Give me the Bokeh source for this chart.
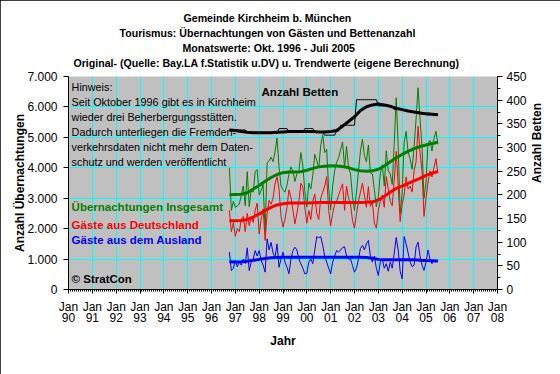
import math
from bokeh.plotting import figure
from bokeh.models import Range1d, LinearAxis, FixedTicker, Label, Title
from bokeh.embed import file_html
from bokeh.resources import INLINE
import pandas as pd

# ---------------- data ----------------
months = pd.date_range("1996-10-01", "2005-07-01", freq="MS")
quarters = pd.date_range("1996-10-01", "2005-07-01", freq="3MS")

gesamt = [4000, 2600, 2900, 2700, 2750, 2800, 3100, 3400, 2750, 3870,
          2720, 3300, 3200, 3880, 3940, 3110, 3250, 3450, 1900, 4165,
          4225, 4350, 4200, 4530, 4980, 4030, 3400, 3280, 3200, 3430,
          3795, 4030, 3880, 3550, 3800, 3900, 4500, 4060, 3215, 2710,
          3500, 3300, 3750, 4440, 4240, 4000, 4740, 5090, 4500, 4610,
          3300, 2615, 3400, 3900, 4180, 4330, 4600, 4850, 4000, 4700,
          4000, 3800, 3060, 2600, 3200, 3900, 4550, 4940, 4400, 4200,
          4750, 3830, 3800, 3280, 2715, 3060, 3800, 4100, 3400, 4560,
          3900, 3800, 3450, 4800, 6300, 4700, 2500, 3150, 4840, 5200,
          4500, 4300, 3950, 4700, 5600, 6630, 5600, 4700, 3000, 3500,
          4800, 4900, 4550, 4950, 5200, 4770]

deutschland = [2600, 1900, 2200, 1750, 2000, 1900, 2300, 2400, 1900, 2500,
               2100, 2400, 2200, 2600, 2840, 1830, 2300, 2650, 1610, 2500,
               2925, 2800, 3000, 3470, 3710, 3300, 2400, 2050, 2300, 2700,
               3275, 3030, 2600, 2160, 2500, 2900, 3490, 3360, 2700, 2180,
               2600, 2300, 2900, 3140, 2500, 2300, 3000, 3200, 3400, 3710,
               2600, 2100, 2500, 2800, 2900, 3100, 3300, 3470, 2600, 3400,
               3000, 2800, 2270, 2015, 2500, 2900, 3200, 3490, 3100, 2700,
               3380, 2730, 2900, 2180, 2015, 2600, 2900, 3100, 2700, 3710,
               3300, 2900, 2750, 3600, 4535, 3400, 2235, 2800, 3100, 3700,
               3300, 3400, 3200, 3900, 4200, 5360, 4500, 3900, 2400, 3000,
               3500, 3900, 3700, 4000, 4300, 3820]

ausland = [1230, 620, 700, 950, 750, 900, 800, 1000, 850, 1370,
           620, 900, 1000, 1280, 1100, 1280, 950, 800, 570, 1665,
           1300, 1550, 1200, 1060, 1500, 730, 1000, 1230, 900, 730,
           520, 1000, 1280, 1390, 1300, 1000, 844, 700, 515, 530,
           900, 1000, 850, 1300, 1740, 1700, 1740, 1450, 1100, 900,
           700, 515, 900, 1100, 1280, 1230, 1300, 1380, 1400, 1100,
           1000, 1000, 790, 570, 700, 1000, 1350, 1450, 1300, 1500,
           1610, 1100, 900, 1100, 700, 460, 900, 1000, 700, 850,
           600, 900, 700, 1200, 1710, 1300, 600, 350, 1740, 1500,
           1200, 900, 750, 800, 1400, 1555, 1100, 800, 625, 900,
           1300, 1000, 850, 950, 900, 950]

betten = [337, 337, 337, 337, 337, 337, 337, 337, 337, 332,
          332, 332, 332, 332, 332, 332, 332, 332, 332, 332,
          332, 330, 330, 330, 330, 340, 340, 340, 340, 340,
          333, 333, 333, 333, 333, 333, 333, 333, 340, 340,
          340, 340, 340, 333, 333, 333, 333, 333, 326, 326,
          326, 326, 326, 326, 335, 335, 347, 347, 347, 347,
          347, 347, 347, 347, 401, 401, 401, 401, 401, 401,
          401, 401, 401, 401, 401, 388, 388, 388, 388, 388,
          388, 388, 388, 380, 380, 380, 380, 380, 380, 376,
          376, 376, 376, 376, 376, 376, 373, 373, 373, 373,
          373, 373, 370, 370, 370, 370]

trend_gesamt = [3110, 3120, 3130, 3180, 3300, 3420, 3560, 3680, 3780, 3840,
                3860, 3860, 3870, 3920, 3980, 4030, 4050, 4070, 4060, 4040,
                4000, 3940, 3900, 3890, 3900, 3950, 4060, 4200, 4330, 4440,
                4540, 4630, 4700, 4750, 4800, 4840]
trend_deutschland = [2260, 2260, 2270, 2300, 2380, 2480, 2600, 2700, 2780, 2820,
                     2840, 2840, 2840, 2840, 2850, 2860, 2860, 2860, 2860, 2860,
                     2860, 2860, 2860, 2865, 2880, 2940, 3060, 3200, 3320, 3400,
                     3490, 3570, 3650, 3750, 3820, 3880]
trend_ausland = [910, 905, 910, 930, 960, 990, 1020, 1040, 1055, 1060,
                 1060, 1060, 1060, 1060, 1060, 1060, 1060, 1060, 1060, 1060,
                 1060, 1060, 1060, 1050, 1030, 990, 975, 975, 975, 975,
                 975, 975, 960, 950, 945, 940]
trend_betten = [337, 336, 334, 332, 331, 331, 331, 331, 332, 333,
                334, 334, 334, 334, 334, 333, 333, 334, 336, 345,
                355, 365, 378, 386, 390, 392, 390, 387, 383, 380,
                377, 375, 373, 371, 370, 369]

years = list(range(1990, 2009))
year_labels = {y: "Jan\n" + str(y)[2:] for y in years}
left_ticks = [0, 1000, 2000, 3000, 4000, 5000, 6000, 7000]
left_labels = {0: "0", 1000: "1.000", 2000: "2.000", 3000: "3.000",
               4000: "4.000", 5000: "5.000", 6000: "6.000", 7000: "7.000"}
right_ticks = [0, 50, 100, 150, 200, 250, 300, 350, 400, 450]

title_lines = ["Gemeinde Kirchheim b. München",
               "Tourismus: Übernachtungen von Gästen und Bettenanzahl",
               "Monatswerte: Okt. 1996 - Juli 2005",
               "Original- (Quelle: Bay.LA f.Statistik u.DV) u. Trendwerte (eigene Berechnung)"]
hinweis = ["Hinweis:",
           "Seit Oktober 1996 gibt es in Kirchheim",
           "wieder drei Beherbergungsstätten.",
           "Dadurch unterliegen die Fremden-",
           "verkehrsdaten nicht mehr dem Daten-",
           "schutz und werden veröffentlicht"]

FONT = "Liberation Sans"

x_m = [d.year + (d.month - 1) / 12 for d in months]
x_q = [d.year + (d.month - 1) / 12 for d in quarters]

# ---------------- figure ----------------
p = figure(width=560, height=374, x_range=Range1d(1990, 2008), y_range=Range1d(0, 7000),
           output_backend="svg", toolbar_location=None, title=None,
           min_border_left=68, min_border_right=63, min_border_bottom=85, min_border_top=76,
           background_fill_color="#C0C0C0", border_fill_color="white")
p.outline_line_color = None
p.styles = {"outline": "1px solid black", "outline-offset": "-1px"}

p.extra_y_ranges = {"betten": Range1d(0, 450)}

# white (invisible) spacer between plot and title block
p.add_layout(Title(text=".", text_font=FONT, text_font_size="6px", text_color="white",
                   standoff=1), "above")
# titles (first added = closest to the plot)
title_offsets = [115, 51, 114, 5]
for txt, off in reversed(list(zip(title_lines, title_offsets))):
    p.add_layout(Title(text=txt, align="left", offset=off, standoff=1,
                       text_font=FONT, text_font_size="10.6px", text_font_style="bold",
                       text_color="black", text_line_height=1.0), "above")

# grids
p.xgrid.ticker = FixedTicker(ticks=years)
p.ygrid.ticker = FixedTicker(ticks=left_ticks)
p.xgrid.grid_line_color = "#00FFFF"
p.ygrid.grid_line_color = "#00FFFF"
p.xgrid.grid_line_width = 1
p.ygrid.grid_line_width = 1

# x axis
xa = p.xaxis[0]
xa.ticker = FixedTicker(ticks=years, minor_ticks=[1990 + i / 12 for i in range(217)])
xa.major_label_overrides = year_labels
xa.axis_label = "Jahr"
xa.major_tick_out = 4
xa.major_tick_in = 0
xa.minor_tick_out = 2
xa.minor_tick_in = 0
xa.major_label_standoff = 6
xa.axis_label_standoff = 6
xa.major_label_text_line_height = 0.85

# left axis
ya = p.yaxis[0]
ya.ticker = FixedTicker(ticks=left_ticks)
ya.major_label_overrides = left_labels
ya.axis_label = "Anzahl Übernachtungen"
ya.major_tick_out = 5
ya.major_tick_in = 0
ya.minor_tick_line_color = None
ya.major_label_standoff = 6
ya.axis_label_standoff = -3

# right axis
ra = LinearAxis(y_range_name="betten", axis_label="Anzahl Betten",
                ticker=FixedTicker(ticks=right_ticks, minor_ticks=list(range(0, 451, 25))))
ra.major_tick_out = 5
ra.major_tick_in = 0
ra.minor_tick_out = 3
ra.minor_tick_in = 0
ra.major_label_standoff = 4
ra.axis_label_standoff = 7
try:
    ra.axis_label_orientation = math.pi / 2
except Exception:
    pass
p.add_layout(ra, "right")

for ax in [xa, ya, ra]:
    ax.axis_line_color = "black"
    ax.major_tick_line_color = "black"
    ax.major_label_text_font = FONT
    ax.major_label_text_font_size = "12px"
    ax.major_label_text_color = "black"
    ax.axis_label_text_font = FONT
    ax.axis_label_text_font_size = "12px"
    ax.axis_label_text_font_style = "bold"
    ax.axis_label_text_color = "black"
xa.minor_tick_line_color = "black"
ra.minor_tick_line_color = "black"

# ---------------- series ----------------
p.line(x_m, gesamt, line_color="#008000", line_width=1)
p.line(x_m, deutschland, line_color="#FF0000", line_width=1)
p.line(x_m, ausland, line_color="#0000FF", line_width=1)
p.line(x_m, betten, line_color="black", line_width=1, y_range_name="betten")

p.line(x_q, trend_gesamt, line_color="#008000", line_width=3)
p.line(x_q, trend_deutschland, line_color="#FF0000", line_width=3)
p.line(x_q, trend_ausland, line_color="#0000FF", line_width=3)
p.line(x_q, trend_betten, line_color="black", line_width=3, y_range_name="betten")

# ---------------- texts ----------------
hinweis_y = [6845, 6352, 5860, 5367, 4874, 4381]
for txt, yy in zip(hinweis, hinweis_y):
    p.add_layout(Label(x=1990.13, y=yy, text=txt, text_baseline="top",
                       text_font=FONT, text_font_size="10.8px", text_color="black"))

legend_items = [("Übernachtungen Insgesamt", 2695, "#008000"),
                ("Gäste aus Deutschland", 2136, "#FF0000"),
                ("Gäste aus dem Ausland", 1643, "#0000FF"),
                ("© StratCon", 361, "black")]
for txt, yy, col in legend_items:
    p.add_layout(Label(x=1990.13, y=yy, text=txt, text_baseline="middle",
                       text_font=FONT, text_font_size="11.5px", text_font_style="bold",
                       text_color=col))

p.add_layout(Label(x=1998.1, y=6497, text="Anzahl Betten", text_baseline="middle",
                   text_font=FONT, text_font_size="11.5px", text_font_style="bold",
                   text_color="black"))

open("out.html", "w").write(file_html(p, INLINE))
